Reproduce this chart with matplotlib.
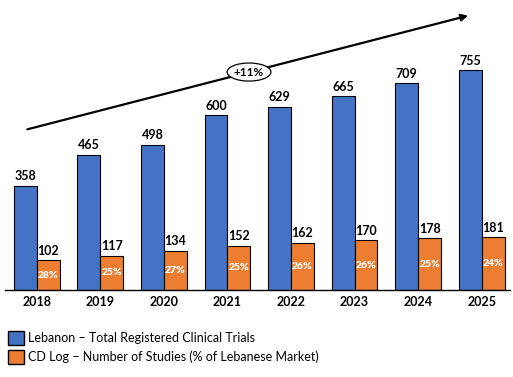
import matplotlib
matplotlib.use("Agg")
import matplotlib.pyplot as plt
from matplotlib.patches import Ellipse, Patch
import numpy as np

years = ["2018", "2019", "2020", "2021", "2022", "2023", "2024", "2025"]
total_trials = [358, 465, 498, 600, 629, 665, 709, 755]
cdlog_studies = [102, 117, 134, 152, 162, 170, 178, 181]
cdlog_share = ["28%", "25%", "27%", "25%", "26%", "26%", "25%", "24%"]
growth_label = "+11%"
legend_labels = ["Lebanon \u2013 Total Registered Clinical Trials",
                 "CD Log \u2013 Number of Studies (% of Lebanese Market)"]

blue = "#4472C4"
orange = "#ED7D31"
plt.rcParams['font.family'] = ['Lato', 'DejaVu Sans']

fig = plt.figure(figsize=(5.13, 3.77), dpi=100)
ax = fig.add_axes([0.0097, 0.2308, 0.985, 0.769])
x = np.arange(len(years))
w = 0.36
ax.bar(x - w / 2, total_trials, w, color=blue, edgecolor="black", linewidth=0.8)
ax.bar(x + w / 2, cdlog_studies, w, color=orange, edgecolor="black", linewidth=0.8)

for i in range(len(years)):
    ax.text(x[i] - w / 2, total_trials[i] + 12, str(total_trials[i]), ha="center", va="bottom",
            fontsize=9, fontweight="bold", color="black")
    ax.text(x[i] + w / 2, cdlog_studies[i] + 12, str(cdlog_studies[i]), ha="center", va="bottom",
            fontsize=9, fontweight="bold", color="black")
    ax.text(x[i] + w / 2, cdlog_studies[i] / 2, cdlog_share[i], ha="center", va="center",
            fontsize=7.5, fontweight="heavy", color="white")

ax.set_xlim(-0.5, 7.45)
ax.set_ylim(0, 995)
ax.set_xticks(x)
ax.set_xticklabels(years, fontsize=9, fontweight="bold")
ax.tick_params(axis="x", length=0, pad=4)
ax.set_yticks([])
for s in ["top", "right", "left"]:
    ax.spines[s].set_visible(False)
ax.spines["bottom"].set_linewidth(1.0)

ax.annotate("", xy=(6.83, 944), xytext=(-0.19, 549),
            arrowprops=dict(arrowstyle="-|>", color="black", lw=1.6, mutation_scale=10))
ell = Ellipse((3.34, 748), 0.69, 62, facecolor="white", edgecolor="black", linewidth=0.9, zorder=5)
ax.add_patch(ell)
ax.text(3.34, 748, growth_label, ha="center", va="center", fontsize=8.5, fontweight="bold", zorder=6)

handles = [Patch(facecolor=blue, edgecolor="black"), Patch(facecolor=orange, edgecolor="black")]
fig.legend(handles, legend_labels, loc="lower left", bbox_to_anchor=(0.0, 0.015),
           frameon=False, fontsize=9, handlelength=1.3, handleheight=1.3, handletextpad=0.3,
           labelspacing=0.45, borderaxespad=0.2)

fig.savefig("out.png", dpi=100)
